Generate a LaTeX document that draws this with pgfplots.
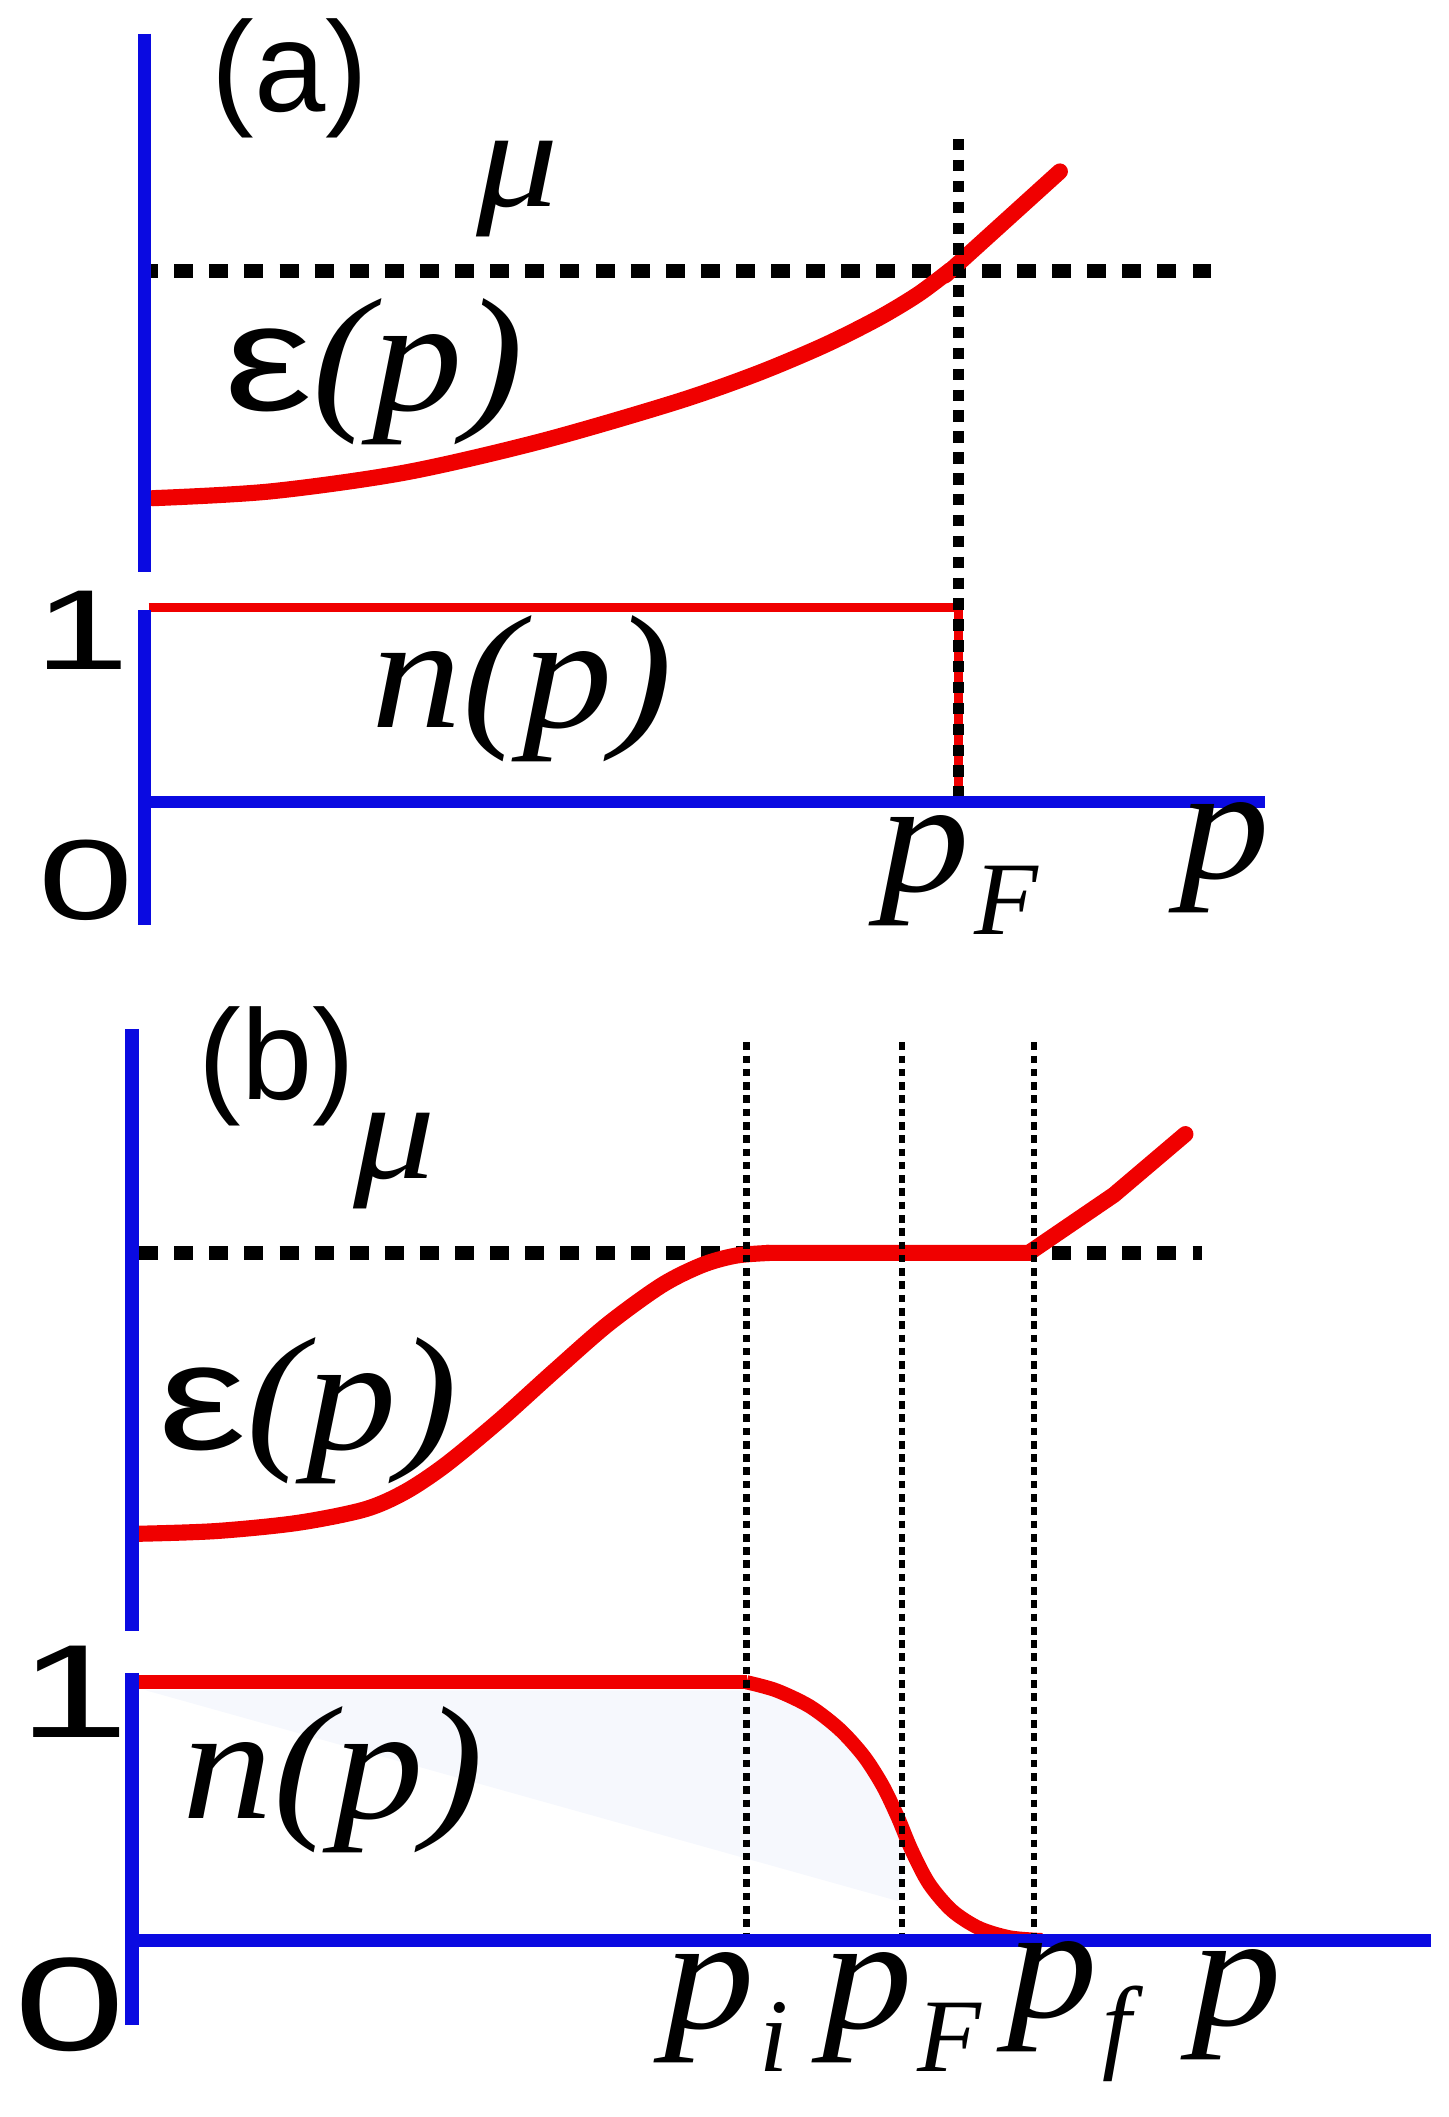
\documentclass[border=0pt]{standalone}
\usepackage{pgfplots}
\pgfplotsset{compat=1.18}
\usepackage{fontspec}
\setmainfont{Liberation Serif}
\newfontfamily\sansf{Liberation Sans}
\usepackage{graphicx}
\definecolor{axblue}{RGB}{10,10,225}
\definecolor{cred}{RGB}{240,0,0}
\definecolor{shade}{RGB}{246,248,253}
\newcommand{\lab}[1]{\scalebox{1.12}[1]{\fontsize{34}{34}\selectfont\itshape #1}}
\newcommand{\mulab}{\scalebox{1.15}[1]{\fontsize{30}{30}\selectfont\itshape μ}}
\newcommand{\sub}[1]{\raisebox{-9pt}{\fontsize{22}{22}\selectfont\itshape #1}}
\newcommand{\num}[2]{\scalebox{1.5}[1]{\fontsize{#2}{#2}\selectfont\sansf #1}}
\newcommand{\eps}{\scalebox{1.3}[1]{\fontsize{32}{32}\selectfont\sansf ε}}
\newcommand{\panel}[1]{{\fontsize{27}{27}\selectfont\sansf #1}}
\begin{document}
\begin{tikzpicture}
\begin{axis}[width=10.73cm,height=15.68cm,scale only axis,
  xmin=0,xmax=1073,ymin=0,ymax=1568,y dir=reverse,
  axis lines=none,clip=false,no markers]
% ---------- shading (b)
\addplot[draw=none,fill=shade] coordinates {(108,1252)(553,1252)(575,1256)(600,1268)(622,1285)(640,1305)(654,1327)(665,1350)(672,1368)(665,1408)(108,1252)};
% ---------- horizontal dashed mu lines
\addplot[black,line width=3pt,dash pattern=on 4pt off 3.4pt] coordinates {(103,201)(905,201)};
\addplot[black,line width=3pt,dash pattern=on 4pt off 3.4pt] coordinates {(103,928)(890,928)};
% ---------- panel (a) red curves
\addplot[cred,line width=3.4pt,line cap=round,smooth] coordinates {(113,369)(200,364)(300,350)(400,327)(500,298)(560,277)(610,256)(650,236)(680,218)(704,200)};
\addplot[cred,line width=3.4pt,line cap=round] coordinates {(700,204)(785,127)};
\addplot[cred,line width=2pt] coordinates {(110,450)(710,450)(710,593)};
% ---------- panel (b) red curves
\addplot[cred,line width=3.4pt,smooth] coordinates {(103,1136)(160,1134)(220,1128)(270,1118)(300,1105)(330,1085)(370,1052)(410,1016)(450,981)(490,952)(520,937)(545,930)(570,928)};
\addplot[cred,line width=3.4pt,line cap=round] coordinates {(568,928)(762,928)(825,885)(878,840)};
\addplot[cred,line width=3pt] coordinates {(103,1246)(553,1246)};
\addplot[cred,line width=3pt,smooth] coordinates {(553,1246)(575,1252)(600,1264)(622,1281)(640,1301)(654,1323)(665,1346)(675,1370)(688,1395)(705,1415)(725,1428)(748,1435)(772,1437)};
% ---------- vertical dashed lines
\addplot[black,line width=2.2pt,dash pattern=on 2.4pt off 2pt] coordinates {(710,103)(710,593)};
\addplot[black,line width=1.5pt,dash pattern=on 1.6pt off 1.2pt] coordinates {(553,772)(553,1437)};
\addplot[black,line width=1.1pt,dash pattern=on 1.6pt off 1.2pt] coordinates {(668,772)(668,1437)};
\addplot[black,line width=1.2pt,dash pattern=on 1.6pt off 1.2pt] coordinates {(766,772)(766,1437)};
% ---------- blue axes
\addplot[axblue,line width=2.9pt] coordinates {(107,25)(107,424)};
\addplot[axblue,line width=2.9pt] coordinates {(107,452)(107,685)};
\addplot[axblue,line width=2.4pt] coordinates {(103,594)(937,594)};
\addplot[axblue,line width=2.9pt] coordinates {(98,762)(98,1208)};
\addplot[axblue,line width=2.9pt] coordinates {(98,1239)(98,1500)};
\addplot[axblue,line width=2.8pt] coordinates {(94,1437)(1060,1437)};
% ---------- labels (a)
\node[inner sep=0] at (axis cs:215,58) {\panel{(a)}};
\node[inner sep=0] at (axis cs:383,140) {\mulab};
\node[inner sep=0] at (axis cs:277,275) {\eps\lab{(p)}};
\node[inner sep=0] at (axis cs:387,510) {\lab{n(p)}};
\node[inner sep=0] at (axis cs:61,467) {\num{1}{24}};
\node[inner sep=0] at (axis cs:64,652) {\num{0}{24}};
\node[inner sep=0] at (axis cs:710,648) {\lab{p}\kern1pt\sub{F}};
\node[inner sep=0] at (axis cs:907,635) {\lab{p}};
% ---------- labels (b)
\node[inner sep=0] at (axis cs:538,1490) {\lab{p}\kern1pt\sub{i}};
\node[inner sep=0] at (axis cs:668,1490) {\lab{p}\kern1pt\sub{F}};
\node[inner sep=0] at (axis cs:792,1490) {\lab{p}\kern1pt\sub{f}};
\node[inner sep=0] at (axis cs:916,1485) {\lab{p}};
\node[inner sep=0] at (axis cs:205,790) {\panel{(b)}};
\node[inner sep=0] at (axis cs:292,860) {\mulab};
\node[inner sep=0] at (axis cs:228,1045) {\eps\lab{(p)}};
\node[inner sep=0] at (axis cs:247,1318) {\lab{n(p)}};
\node[inner sep=0] at (axis cs:55,1253) {\num{1}{28}};
\node[inner sep=0] at (axis cs:52,1485) {\num{0}{28}};
\end{axis}
\pgfresetboundingbox
\useasboundingbox (current axis.south west) rectangle (current axis.north east);
\end{tikzpicture}
\end{document}
